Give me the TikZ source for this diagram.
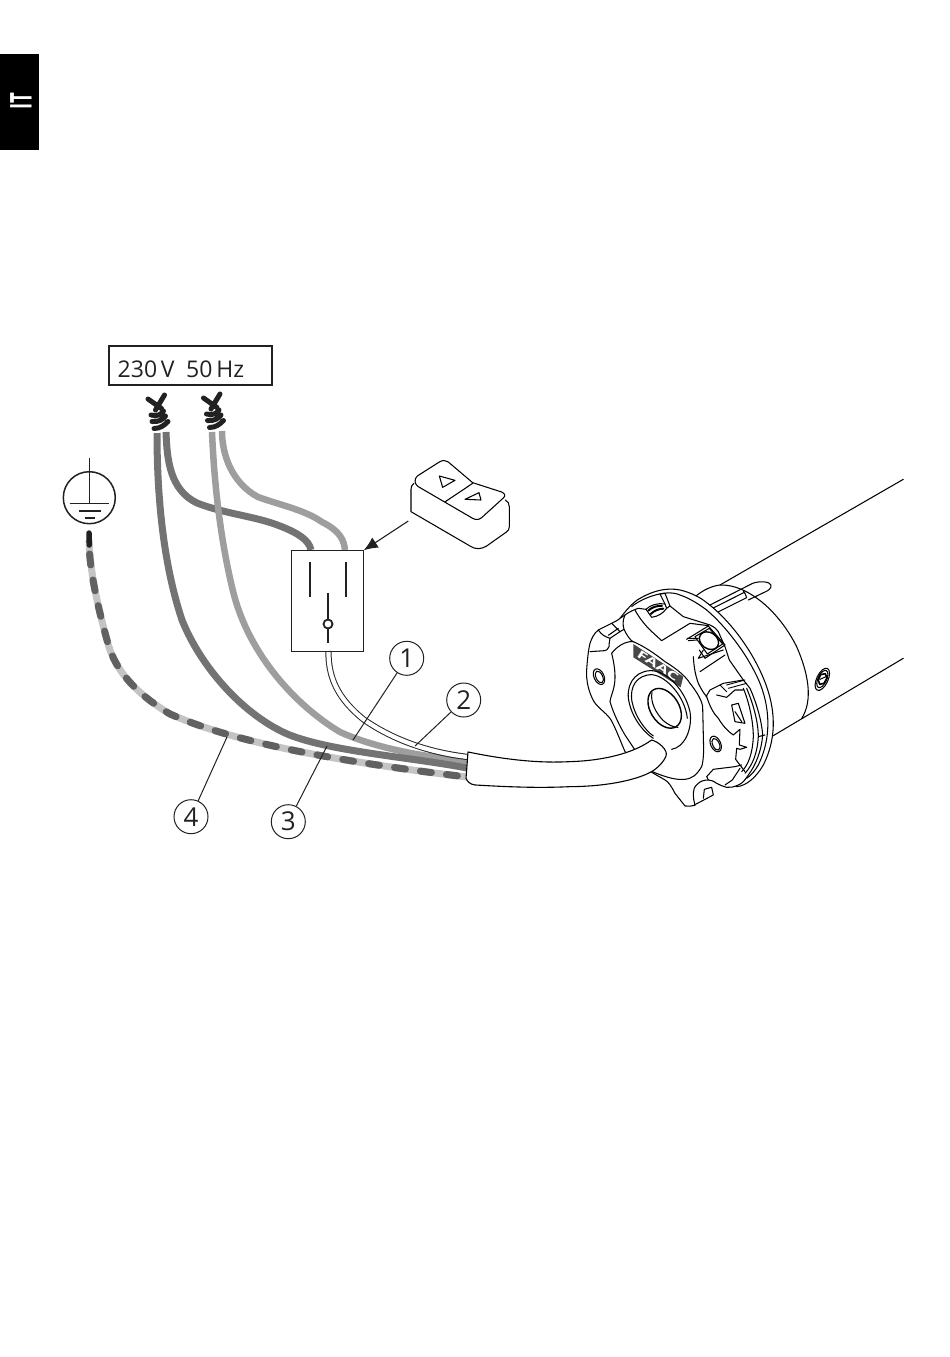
\documentclass[tikz,border=0pt]{standalone}
\usepackage{fontspec}
\setmainfont{Open Sans}
\usetikzlibrary{arrows.meta,calc}
\definecolor{wdark}{gray}{0.45}
\definecolor{wlight}{gray}{0.62}
\definecolor{wpale}{gray}{0.77}
\definecolor{wdash}{gray}{0.38}
\definecolor{ink}{gray}{0.13}
\tikzset{
  callout/.style={draw=ink,circle,line width=1pt,minimum size=34pt,inner sep=0pt,font=\fontsize{26}{26}\selectfont,text=ink},
  lead/.style={draw=ink,line width=1pt},
  wiredark/.style={draw=wdark,line width=7pt},
  wirelight/.style={draw=wlight,line width=6.5pt},
  contact/.style={draw=ink,line width=2.6pt},
  earth/.style={draw=ink,line width=1.5pt},
  ml/.style={draw=black,line width=1.05pt,line join=round,line cap=round},
  mf/.style={ml,fill=white},
  mh/.style={ml,line width=2pt},
  twist/.pic={
    \draw[draw=ink,line width=5pt,line cap=round]
      (-7.5,-8) -- (6,1.5) (9,-12) -- (0,3)
      (-4.5,8) .. controls (2,10) and (6,7) .. (8,4)
      (-3.5,14.5) .. controls (3,15.5) and (8,12) .. (10,9)
      (-1.5,21.5) .. controls (5,21.5) and (9,18) .. (12.5,14.5);
  }
}
\begin{document}
\begin{tikzpicture}[x=1pt,y=-1pt]
\useasboundingbox (0,0) rectangle (950,1357);
% language tab
\fill[black] (0,54) rectangle (38.5,149.5);
\node[text=white,rotate=90,inner sep=0pt,font=\bfseries\fontsize{30}{30}\selectfont] (tab) at (21,101.5) {\scalebox{0.62}[1]{IT}};
% supply label
\node[draw=ink,line width=1.6pt,minimum width=163pt,minimum height=39pt,inner sep=0pt] (lbl) at (190.5,365.5) {};
\node[text=ink,anchor=west,inner sep=0pt,font=\fontsize{23}{23}\selectfont] (lbltxt) at (117.5,369) {230\,V\hspace{0.5em}50\,Hz};
% wire coordinates
\coordinate (tw1a) at (157,433);
\coordinate (tw1b) at (166,432);
\coordinate (tw2a) at (212,432);
\coordinate (tw2b) at (222,431);
\coordinate (g1) at (467,768);
\coordinate (g2) at (467,761);
\coordinate (g3) at (467,777);
% wires
\draw[wiredark] (tw1b) .. controls (167,460) and (170,490) .. (197,503)
   .. controls (225,514) and (255,516) .. (280,526)
   .. controls (298,533) and (309,540) .. (311,550);
\draw[wirelight] (tw2b) .. controls (222,455) and (232,483) .. (258,497)
   .. controls (280,505) and (305,510) .. (322,522)
   .. controls (340,531) and (344,540) .. (345,550);
\draw[wirelight] (tw2a) .. controls (214,480) and (220,540) .. (234,595)
   .. controls (250,655) and (295,705) .. (340,732)
   .. controls (375,748) and (425,757) .. (g2);
\draw[wiredark] (tw1a) .. controls (157,490) and (162,560) .. (182,620)
   .. controls (200,665) and (240,712) .. (285,733)
   .. controls (325,751) and (410,757) .. (g1);
% earth wire
\draw[draw=wpale,line width=7pt] (89,540) .. controls (90,575) and (100,615) .. (107,640)
   .. controls (113,665) and (130,690) .. (170,714)
   .. controls (220,736) and (300,757) .. (g3);
\draw[draw=wdash,line width=7pt,line cap=round,dash pattern=on 11pt off 15.2pt,dash phase=-2pt] (89.5,552) .. controls (91,578) and (100,615) .. (107,640)
   .. controls (113,665) and (130,690) .. (170,714)
   .. controls (220,736) and (300,757) .. (g3);
\draw[draw=ink,line width=5.5pt,line cap=round] (89,533) -- (89.3,545);
% thin switch cable
\coordinate (cs) at (328.5,651);
\coordinate (ce) at (468,757);
\draw[draw=black!85,line width=6.2pt] (cs) .. controls (328,680) and (340,700) .. (363,719)
   .. controls (390,738) and (425,752) .. (ce);
\draw[draw=white,line width=4.2pt] (cs) .. controls (328,680) and (340,700) .. (363,719)
   .. controls (390,738) and (425,752) .. (ce);
% switch box
\node[draw=ink,line width=1pt,minimum width=71.5pt,minimum height=100.5pt,inner sep=0pt] (sw) at (327.5,601) {};
% switch contacts
\coordinate (k1a) at (310,561.5); \coordinate (k1b) at (310,597);
\coordinate (k2a) at (346,561.5); \coordinate (k2b) at (346,597);
\coordinate (k3a) at (328,592.5); \coordinate (k3b) at (328,643);
\draw[contact] (k1a) -- (k1b);
\draw[contact] (k2a) -- (k2b);
\draw[contact] (k3a) -- (k3b);
\node[circle,draw=ink,fill=white,line width=1.8pt,minimum size=9pt,inner sep=0pt] (piv) at (328,624) {};
% twists
\pic at (155.5,407) {twist};
\pic at (211,406) {twist};
% earth symbol
\node[circle,draw=ink,line width=1.5pt,minimum size=52pt,inner sep=0pt] (gnd) at (89.3,497.7) {};
\coordinate (g0) at (89.3,458); \coordinate (g0b) at (89.3,503.7);
\draw[earth] (g0) -- (g0b);
\draw[earth] (69.5,503.7) -- (109,503.7);
\draw[earth] (79,511) -- (101,511);
\draw[earth,line width=1.7pt] (84.5,518) -- (94.5,518);
% remote control
\begin{scope}[shift={(280,450)},x=0.3333pt,y=-0.3333pt]
  \coordinate (rm) at (385,213);
  \draw[ml] (402,100) .. controls (395,105) and (393,110) .. (393,118) -- (393,185)
    -- (570,288) .. controls (585,299) and (605,298) .. (620,288)
    -- (678,247) .. controls (685,243) and (688,238) .. (688,230) -- (688,170)
    .. controls (688,160) and (684,155) .. (676,150);
  \draw[mf] (412,78) -- (478,36) .. controls (488,30) and (497,30) .. (505,36)
    -- (578,98) -- (665,126) .. controls (676,131) and (677,138) .. (670,144)
    -- (605,203) .. controls (596,210) and (588,210) .. (578,205)
    -- (415,110) .. controls (403,102) and (402,87) .. (412,78) -- cycle;
  \draw[ml] (578,100) -- (496,155);
  \draw[ml] (478,78) -- (525,91) -- (488,112) -- cycle;
  \draw[ml] (555,148) -- (597,128) -- (603,150) -- cycle;
\end{scope}
\draw[draw=ink,line width=1.1pt,-{Latex[length=14pt,width=12pt]}] (rm) -- (sw.north east);
% motor
\begin{scope}[shift={(570,470)},x=0.3333pt,y=-0.3333pt]
  % tube
  \draw[ml] (450,345) -- (1000,28);
  \draw[ml] (610,797) -- (1000,565);
  % cup
  \draw[ml] (378,378) .. controls (400,360) and (425,348) .. (450,345)
    .. controls (530,342) and (625,420) .. (680,530)
    .. controls (715,610) and (730,690) .. (695,746);
  % key
  \draw[ml] (420,405) -- (548,340) .. controls (570,332) and (600,335) .. (603,345)
    .. controls (605,355) and (595,362) .. (585,366) -- (535,390);
  \draw[ml] (428,415) -- (525,366);
  \draw[ml] (440,428) -- (530,383) .. controls (528,375) and (525,370) .. (520,363);
  % screw
  \draw[ml] (757,628) ellipse [x radius=17,y radius=36,rotate=-25];
  \draw[ml] (757,627) ellipse [x radius=13,y radius=28,rotate=-25];
  \draw[ml,line width=1.6pt] (752,614) -- (766,611) -- (771,624) -- (762,640) -- (749,643) -- (745,630) -- cycle;
  \draw[ml] (750,628) -- (768,620);
  % flange
  \draw[mf] (150,445) .. controls (165,425) and (190,395) .. (210,385)
    .. controls (250,362) and (290,352) .. (330,360)
    .. controls (365,368) and (395,385) .. (410,398)
    .. controls (480,450) and (555,550) .. (590,650)
    .. controls (618,730) and (618,810) .. (580,885)
    .. controls (560,920) and (530,948) .. (500,950) -- (300,800) -- cycle;
  \draw[ml] (185,410) .. controls (210,388) and (285,355) .. (330,375)
    .. controls (360,385) and (390,405) .. (410,420)
    .. controls (480,480) and (545,575) .. (572,645)
    .. controls (602,725) and (602,810) .. (565,885)
    .. controls (555,902) and (545,915) .. (530,925);
  % front casting outline
  \draw[mf,line cap=round] (165,435) .. controls (178,425) and (195,418) .. (205,415) -- (228,418)
    -- (245,442) .. controls (262,440) and (280,430) .. (290,415) -- (300,408)
    -- (340,440) -- (420,465) .. controls (435,472) and (440,478) .. (445,485)
    -- (465,530) -- (478,570) -- (520,630) -- (540,655)
    .. controls (558,695) and (575,750) .. (578,795)
    .. controls (575,840) and (558,885) .. (535,915)
    .. controls (525,930) and (518,940) .. (505,945)
    .. controls (490,952) and (480,953) .. (470,952)
    .. controls (455,948) and (450,945) .. (440,940)
    .. controls (430,933) and (422,930) .. (415,930)
    .. controls (400,930) and (390,935) .. (385,940)
    .. controls (372,950) and (370,960) .. (370,970)
    .. controls (370,985) and (372,995) .. (375,1006)
    .. controls (365,1009) and (355,1009) .. (345,1008)
    -- (315,970) .. controls (305,950) and (295,935) .. (285,930)
    -- (247,908) -- (165,845)
    .. controls (150,810) and (135,770) .. (122,748)
    .. controls (105,725) and (85,715) .. (72,695)
    .. controls (55,665) and (48,630) .. (50,600)
    .. controls (52,570) and (55,540) .. (60,520)
    .. controls (65,505) and (72,490) .. (85,480)
    -- (125,460) .. controls (135,455) and (145,450) .. (150,445) -- cycle;
  % notch
  \draw[ml] (228,418) .. controls (240,405) and (265,398) .. (285,402) -- (290,415);
  \draw[mh] (235,422) .. controls (245,412) and (262,406) .. (276,408);
  \draw[mh] (242,432) .. controls (252,422) and (268,416) .. (280,416);
  \draw[ml] (270,372) -- (285,370) -- (300,408);
  \draw[ml] (270,372) -- (285,402);
  % left lobe tab
  \draw[ml] (125,460) -- (150,485) -- (120,505) .. controls (117,515) and (118,525) .. (117,530)
     .. controls (113,538) and (110,541) .. (105,542) -- (60,545);
  \draw[ml] (115,496) -- (145,475);
  \draw[ml] (85,480) .. controls (95,495) and (105,500) .. (120,505);
  \draw[ml] (165,435) .. controls (158,450) and (158,465) .. (162,478) -- (150,485);
  % top plate lines
  \draw[ml] (195,420) .. controls (205,440) and (225,465) .. (240,480) -- (275,512) -- (360,460) -- (415,467);
  \draw[ml] (162,478) .. controls (170,495) and (180,510) .. (190,516);
  % button
  \draw[ml] (350,508) -- (415,468) -- (465,525) -- (405,565) -- (388,540);
  \draw[ml] (375,500) -- (418,475) -- (458,522) -- (412,552) -- cycle;
  \draw[mh,line width=1.4pt] (417,512) ellipse [x radius=31,y radius=24,rotate=-35];
  \draw[ml] (352,505) -- (385,505) (355,512) -- (380,510);
  \draw[ml] (400,540) -- (385,565) -- (460,540);
  \draw[ml] (390,605) -- (465,555);
  % front face
  \draw[ml] (125,550) .. controls (140,530) and (165,513) .. (190,515)
    .. controls (225,530) and (260,555) .. (285,575)
    .. controls (310,590) and (345,615) .. (360,640)
    .. controls (380,665) and (395,690) .. (398,710)
    -- (401,840) .. controls (400,870) and (398,880) .. (395,890)
    .. controls (380,915) and (368,925) .. (345,928)
    .. controls (320,930) and (295,925) .. (247,905);
  \draw[ml] (125,550) .. controls (135,590) and (138,625) .. (132,650)
    .. controls (128,670) and (122,680) .. (120,695)
    .. controls (130,730) and (150,770) .. (165,795) -- (195,840);
  \draw[ml] (370,560) .. controls (372,590) and (375,612) .. (385,640) .. controls (395,660) and (400,668) .. (410,680);
  % holes
  \draw[ml] (87,620) ellipse [x radius=15,y radius=25,rotate=25];
  \draw[ml] (88,621) ellipse [x radius=10,y radius=19,rotate=25];
  \draw[ml] (437,822) ellipse [x radius=15,y radius=25,rotate=25];
  \draw[ml] (438,823) ellipse [x radius=10,y radius=19,rotate=25];
  % logo
  \fill[black!72] (190,522) -- (340,620) -- (332,652) -- (190,562) -- cycle;
  \node[text=white,inner sep=0pt,rotate=-33,font=\bfseries\fontsize{11}{11}\selectfont] (logo) at (264,587) {\scalebox{1.7}[1]{FAAC}};
  % donut
  \draw[ml] (250,805) .. controls (225,790) and (190,750) .. (178,700)
    .. controls (165,650) and (190,605) .. (240,602)
    .. controls (290,600) and (345,660) .. (360,725)
    .. controls (368,775) and (345,832) .. (305,838);
  \draw[ml] (250,798) .. controls (225,780) and (195,740) .. (186,695)
    .. controls (178,650) and (200,615) .. (245,614)
    .. controls (290,618) and (345,680) .. (352,745);
  \draw[ml,line width=1.4pt] (284,715) ellipse [x radius=43,y radius=65,rotate=32];
  \draw[ml] (246,668) .. controls (240,695) and (258,730) .. (280,752) .. controls (295,765) and (310,772) .. (324,772);
  % right cut-out
  \draw[ml] (410,680) .. controls (420,710) and (430,730) .. (445,745) .. controls (460,770) and (475,785) .. (490,795)
    -- (510,778) -- (508,825) -- (530,832) -- (510,838) -- (500,835) -- (497,868) -- (525,905);
  \draw[ml] (408,680) -- (420,660) -- (460,640) -- (520,630);
  \draw[ml] (440,675) -- (470,682) -- (495,660) -- (520,660);
  \draw[ml] (450,645) -- (470,665);
  \draw[mh,line width=0.9pt] (470,645) -- (525,630) (475,655) -- (530,640);
  \draw[ml] (520,655) .. controls (535,690) and (550,750) .. (550,800) .. controls (548,850) and (535,885) .. (515,905);
  \draw[ml] (530,655) .. controls (545,690) and (565,750) .. (565,800) .. controls (562,850) and (548,885) .. (525,910);
  \draw[ml] (485,705) -- (505,700) -- (525,760) -- (495,755) -- cycle;
  \draw[ml] (495,725) -- (515,755);
  \draw[ml] (565,800) -- (585,795);
  % bottom tab
  \draw[ml] (373,1005) -- (430,975) -- (425,952) -- (403,958) -- (400,985);
  \draw[ml] (410,920) -- (430,898) -- (495,890) -- (515,885);
  \draw[ml] (410,920) -- (415,930);
  \draw[ml] (465,945) -- (487,930) -- (510,895);
  % power cable
  \draw[mf,line width=1.1pt] (-306,846)
    .. controls (-190,870) and (-90,880) .. (0,875)
    .. controls (100,872) and (190,850) .. (245,810)
    .. controls (265,815) and (295,840) .. (288,858)
    .. controls (282,875) and (262,895) .. (245,905)
    .. controls (190,935) and (90,950) .. (0,950)
    .. controls (-100,955) and (-200,950) .. (-285,945)
    .. controls (-300,943) and (-308,935) .. (-312,925)
    -- cycle;
\end{scope}
% callouts
\node[callout] (c1) at (406.7,658.3) {1};
\node[callout] (c2) at (463.7,700) {2};
\node[callout] (c3) at (288.3,821.7) {3};
\node[callout] (c4) at (191,816.7) {4};
\coordinate (t1) at (353,740);
\coordinate (t2) at (415,746);
\coordinate (t3) at (327,746);
\coordinate (t4) at (227,737);
\draw[lead] (c1) -- (t1);
\draw[lead] (c2) -- (t2);
\draw[lead] (c3) -- (t3);
\draw[lead] (c4) -- (t4);
\end{tikzpicture}
\end{document}
